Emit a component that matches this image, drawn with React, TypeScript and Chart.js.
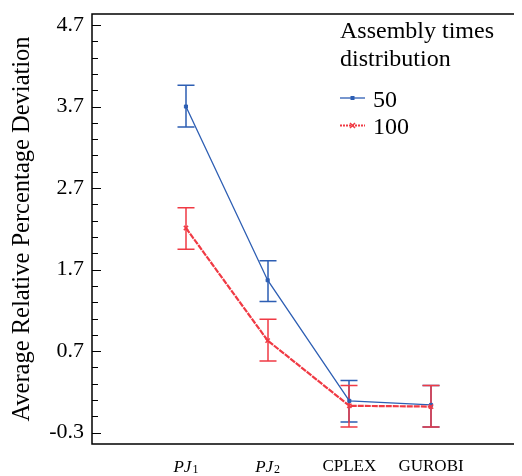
import React, { useEffect, useRef } from 'react';
import { Chart, registerables } from 'chart.js';

Chart.register(...registerables);

// ---- data ----
const categories = ['PJ₁', 'PJ₂', 'CPLEX', 'GUROBI'];
const xPositions = [1, 2, 3, 4];
const seriesLabels = ['50', '100'];
const mean50 = [3.7, 1.57, 0.09, 0.04];
const upper50 = [3.96, 1.81, 0.34, 0.28];
const lower50 = [3.45, 1.31, -0.17, -0.23];
const mean100 = [2.21, 0.83, 0.03, 0.02];
const upper100 = [2.46, 1.09, 0.28, 0.28];
const lower100 = [1.95, 0.58, -0.23, -0.23];
const yMajorTicks = [-0.3, 0.7, 1.7, 2.7, 3.7, 4.7];
const yMinorTicks = [-0.1, 0.1, 0.3, 0.5, 0.9, 1.1, 1.3, 1.5, 1.9, 2.1, 2.3, 2.5, 2.9, 3.1, 3.3, 3.5, 3.9, 4.1, 4.3, 4.5];
const legendTitle = ['Assembly times', 'distribution'];
const yTitle = 'Average Relative Percentage Deviation';

const BLUE = '#2d5eb3';
const RED = '#f03a44';
const SERIF = "'Liberation Serif', 'Times New Roman', serif";

const SUBS = '₀₁₂₃₄₅₆₇₈₉';
const splitSub = (label: string) => {
  let base = '';
  let sub = '';
  for (const ch of label) {
    const k = SUBS.indexOf(ch);
    if (k >= 0) sub += String(k);
    else base += ch;
  }
  return { base, sub };
};

const errorBarPlugin = {
  id: 'errorBars',
  beforeDatasetsDraw(chart: any) {
    const { ctx } = chart;
    const xs = chart.scales.x;
    const ys = chart.scales.y;
    chart.data.datasets.forEach((ds: any) => {
      ctx.save();
      ctx.strokeStyle = ds.borderColor;
      ctx.lineWidth = 1.5;
      ctx.setLineDash([]);
      ds.data.forEach((pt: any, i: number) => {
        const px = Math.round(xs.getPixelForValue(pt.x));
        const pHi = ys.getPixelForValue(ds.errHigh[i]);
        const pLo = ys.getPixelForValue(ds.errLow[i]);
        const half = 8.5;
        ctx.beginPath();
        ctx.moveTo(px, pHi);
        ctx.lineTo(px, pLo);
        ctx.moveTo(px - half, pHi);
        ctx.lineTo(px + half, pHi);
        ctx.moveTo(px - half, pLo);
        ctx.lineTo(px + half, pLo);
        ctx.stroke();
      });
      ctx.restore();
    });
  },
};

const framePlugin = {
  id: 'frame',
  afterDraw(chart: any) {
    const { ctx, chartArea } = chart;
    const ys = chart.scales.y;
    const xs = chart.scales.x;
    const { left, right, top, bottom } = chartArea;
    ctx.save();
    ctx.strokeStyle = '#000';
    ctx.lineWidth = 1.5;
    ctx.setLineDash([]);
    ctx.beginPath();
    ctx.moveTo(left, top);
    ctx.lineTo(right, top);
    ctx.lineTo(right, bottom);
    ctx.lineTo(left, bottom);
    ctx.closePath();
    ctx.stroke();
    ctx.lineWidth = 1;
    ctx.beginPath();
    yMajorTicks.forEach((v) => {
      const p = Math.round(ys.getPixelForValue(v)) + 0.5;
      ctx.moveTo(left, p);
      ctx.lineTo(left + 9, p);
      ctx.moveTo(right, p);
      ctx.lineTo(right - 9, p);
    });
    yMinorTicks.forEach((v) => {
      const p = Math.round(ys.getPixelForValue(v)) + 0.5;
      ctx.moveTo(left, p);
      ctx.lineTo(left + 6, p);
      ctx.moveTo(right, p);
      ctx.lineTo(right - 6, p);
    });
    ctx.stroke();

    // category labels with subscripts (e.g. PJ₁)
    ctx.fillStyle = '#000';
    ctx.textBaseline = 'alphabetic';
    ctx.textAlign = 'left';
    const baseY = bottom + 28;
    categories.forEach((label, i) => {
      const { base, sub } = splitSub(label);
      if (!sub) return;
      const px = xs.getPixelForValue(xPositions[i]);
      ctx.font = `italic 17px ${SERIF}`;
      const wb = ctx.measureText(base).width;
      ctx.font = `12px ${SERIF}`;
      const ws = ctx.measureText(sub).width;
      const x0 = px - (wb + ws + 1) / 2;
      ctx.font = `italic 17px ${SERIF}`;
      ctx.fillText(base, x0, baseY);
      ctx.font = `12px ${SERIF}`;
      ctx.fillText(sub, x0 + wb + 1, baseY + 1);
    });
    ctx.restore();
  },
};

const legendPlugin = {
  id: 'customLegend',
  afterDraw(chart: any) {
    const { ctx, chartArea } = chart;
    const x0 = chartArea.left + 248;
    ctx.save();
    ctx.fillStyle = '#000';
    ctx.font = `24px ${SERIF}`;
    ctx.textBaseline = 'alphabetic';
    ctx.textAlign = 'left';
    ctx.fillText(legendTitle[0], x0, chartArea.top + 24);
    ctx.fillText(legendTitle[1], x0, chartArea.top + 52);
    const rows = [chartArea.top + 84, chartArea.top + 111.5];
    chart.data.datasets.forEach((ds: any, i: number) => {
      const yLine = rows[i];
      ctx.save();
      ctx.strokeStyle = ds.borderColor;
      ctx.lineWidth = ds.borderWidth;
      ctx.setLineDash(i === 1 ? [2, 1] : []);
      ctx.beginPath();
      ctx.moveTo(x0, yLine);
      ctx.lineTo(x0 + 25, yLine);
      ctx.stroke();
      ctx.setLineDash([]);
      const cx = x0 + 12.5;
      if (ds.pointStyle === 'rect') {
        ctx.fillStyle = ds.borderColor;
        ctx.fillRect(cx - 2, yLine - 2, 4, 4);
      } else {
        ctx.lineWidth = 1.5;
        ctx.beginPath();
        ctx.moveTo(cx - 2.5, yLine - 2.5);
        ctx.lineTo(cx + 2.5, yLine + 2.5);
        ctx.moveTo(cx - 2.5, yLine + 2.5);
        ctx.lineTo(cx + 2.5, yLine - 2.5);
        ctx.stroke();
      }
      ctx.restore();
      ctx.fillStyle = '#000';
      ctx.font = `24px ${SERIF}`;
      ctx.fillText(ds.label, x0 + 33, yLine + 8.5);
    });
    ctx.restore();
  },
};

export default function App() {
  const canvasRef = useRef<HTMLCanvasElement | null>(null);

  useEffect(() => {
    const canvas = canvasRef.current;
    if (!canvas) return;
    const chart = new Chart(canvas, {
      type: 'line',
      data: {
        datasets: [
          {
            label: seriesLabels[0],
            data: xPositions.map((x, i) => ({ x, y: mean50[i] })),
            errHigh: upper50,
            errLow: lower50,
            borderColor: BLUE,
            backgroundColor: BLUE,
            borderWidth: 1.3,
            pointStyle: 'rect',
            pointRadius: 2.2,
            pointBorderWidth: 1,
            pointBackgroundColor: BLUE,
            pointBorderColor: BLUE,
            order: 1,
            tension: 0,
          } as any,
          {
            label: seriesLabels[1],
            data: xPositions.map((x, i) => ({ x, y: mean100[i] })),
            errHigh: upper100,
            errLow: lower100,
            borderColor: RED,
            backgroundColor: RED,
            borderWidth: 2.2,
            borderDash: [6, 1],
            pointStyle: 'crossRot',
            pointRadius: 3,
            pointBorderWidth: 1.5,
            pointBackgroundColor: RED,
            pointBorderColor: RED,
            order: 0,
            tension: 0,
          } as any,
        ],
      },
      options: {
        animation: false,
        responsive: false,
        devicePixelRatio: 1,
        layout: { padding: { left: 0, right: 13, top: 6, bottom: 0 } },
        plugins: {
          legend: { display: false },
          tooltip: { enabled: false },
        },
        scales: {
          x: {
            type: 'linear',
            min: -0.15,
            max: 5.15,
            grid: { display: false, drawTicks: false },
            border: { display: false },
            afterBuildTicks: (scale: any) => {
              scale.ticks = xPositions.map((v) => ({ value: v }));
            },
            afterFit: (scale: any) => {
              scale.height = 32;
              scale.paddingLeft = 0;
              scale.paddingRight = 0;
            },
            ticks: {
              padding: 12,
              color: '#000',
              maxRotation: 0,
              autoSkip: false,
              callback: (v: any) => {
                const label = categories[xPositions.indexOf(Number(v))] ?? '';
                return splitSub(label).sub ? '' : label;
              },
              font: { family: SERIF, size: 17 },
            },
          },
          y: {
            type: 'linear',
            min: -0.439,
            max: 4.835,
            grid: { display: false, drawTicks: false },
            border: { display: false },
            afterBuildTicks: (scale: any) => {
              scale.ticks = yMajorTicks.map((v) => ({ value: v }));
            },
            afterFit: (scale: any) => {
              scale.width = 84;
              scale.paddingTop = 0;
              scale.paddingBottom = 0;
            },
            title: {
              display: true,
              text: yTitle,
              color: '#000',
              font: { family: SERIF, size: 24.5 },
              padding: { top: 0, bottom: 0 },
            },
            ticks: {
              padding: 8,
              color: '#000',
              font: { family: SERIF, size: 22 },
              callback: (v: any) => Number(v).toFixed(1),
            },
          },
        },
      } as any,
      plugins: [errorBarPlugin, framePlugin, legendPlugin],
    });
    return () => chart.destroy();
  }, []);

  return (
    <div style={{ width: 514, height: 468, overflow: 'hidden', position: 'relative' }}>
      <canvas ref={canvasRef} width={530} height={468} style={{ display: 'block', width: 530, height: 468 }} />
    </div>
  );
}
